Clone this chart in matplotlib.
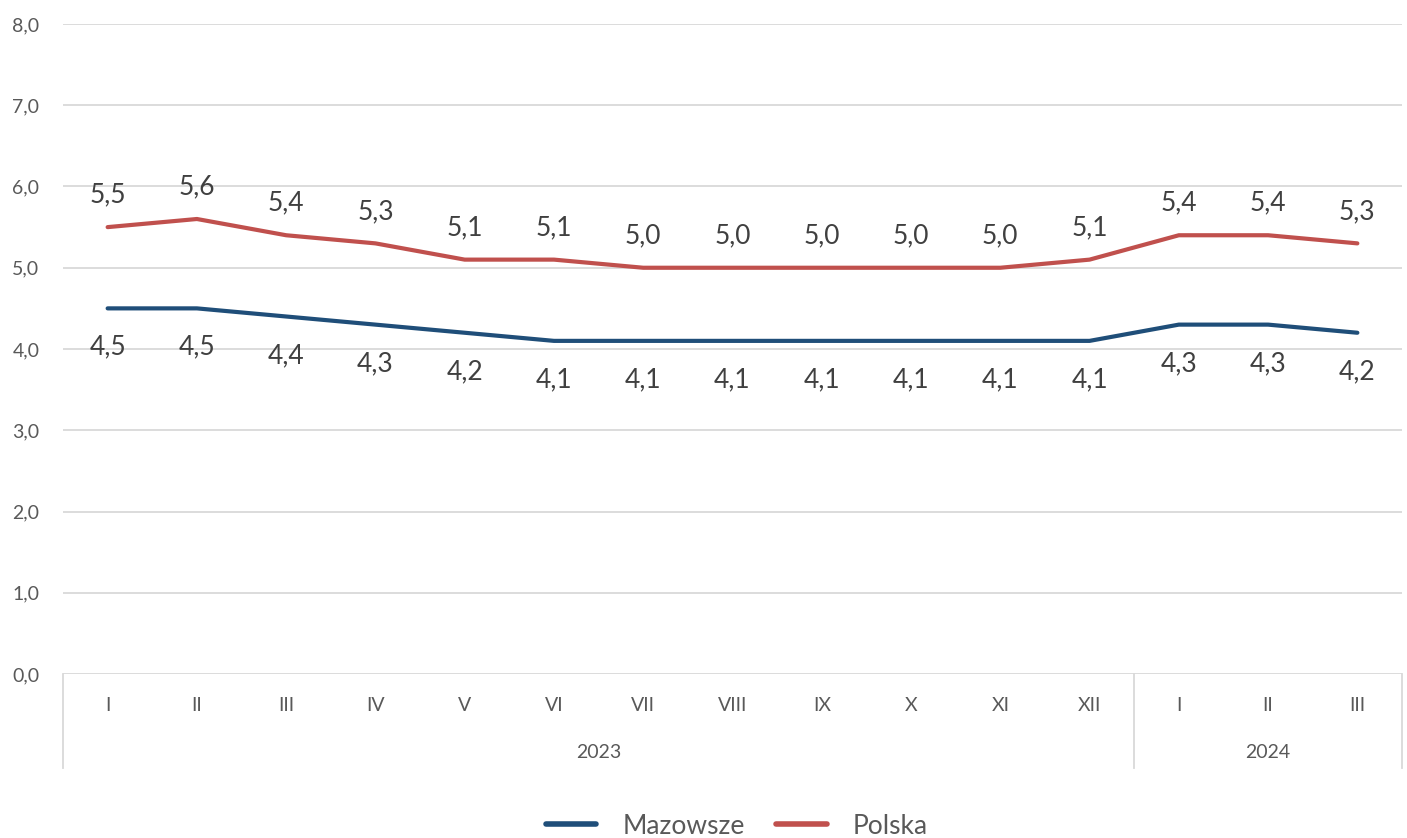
import numpy as np
import matplotlib.pyplot as plt
from matplotlib.lines import Line2D

plt.rcParams['font.family'] = ['Lato', 'DejaVu Sans']

# data
months = ["I", "II", "III", "IV", "V", "VI", "VII", "VIII", "IX", "X", "XI", "XII", "I", "II", "III"]
years = ["2023", "2024"]
year_counts = [12, 3]
mazowsze = [4.5, 4.5, 4.4, 4.3, 4.2, 4.1, 4.1, 4.1, 4.1, 4.1, 4.1, 4.1, 4.3, 4.3, 4.2]
polska = [5.5, 5.6, 5.4, 5.3, 5.1, 5.1, 5.0, 5.0, 5.0, 5.0, 5.0, 5.1, 5.4, 5.4, 5.3]

c_maz = "#1F4E79"
c_pol = "#C0504D"
grid_c = "#D9D9D9"
txt_c = "#595959"
lab_c = "#404040"

fig = plt.figure(figsize=(14.07, 8.38), dpi=100)
ax = fig.add_axes([63/1407, 1-674/838, (1402-63)/1407, (674-24)/838])

x = np.arange(len(months))
ax.plot(x, mazowsze, color=c_maz, lw=3, solid_capstyle='round', zorder=3)
ax.plot(x, polska, color=c_pol, lw=3, solid_capstyle='round', zorder=3)

def fmt(v):
    return f"{v:.1f}".replace(".", ",")

for xi, v in zip(x, polska):
    ax.annotate(fmt(v), (xi, v), xytext=(0, 23), textcoords='offset points',
                ha='center', va='center', fontsize=19, color=lab_c)
for xi, v in zip(x, mazowsze):
    ax.annotate(fmt(v), (xi, v), xytext=(0, -28), textcoords='offset points',
                ha='center', va='center', fontsize=19, color=lab_c)

ax.set_xlim(-0.5, len(months) - 0.5)
ax.set_ylim(0, 8)
ax.set_yticks(np.arange(0, 9, 1))
ax.set_yticklabels([fmt(v) for v in np.arange(0, 9, 1)], fontsize=14, color=txt_c)
ax.tick_params(axis='y', length=0, pad=17)
ax.yaxis.grid(True, color=grid_c, lw=1.3)
ax.set_axisbelow(True)
for s in ax.spines.values():
    s.set_visible(False)
ax.set_xticks([])

# category axis (two levels)
trans = ax.get_xaxis_transform()
for xi, m in zip(x, months):
    ax.text(xi, -31/650, m, transform=trans, ha='center', va='center',
            fontsize=14, color=txt_c, clip_on=False)
bounds = np.concatenate([[0], np.cumsum(year_counts)]) - 0.5
for b in bounds:
    ax.plot([b, b], [0, -94/650], transform=trans, color=grid_c, lw=1.3, clip_on=False)
for i, yr in enumerate(years):
    ax.text((bounds[i] + bounds[i + 1]) / 2, -78/650, yr, transform=trans,
            ha='center', va='center', fontsize=14, color=txt_c, clip_on=False)

handles = [Line2D([], [], color=c_maz, lw=4, solid_capstyle='round'),
           Line2D([], [], color=c_pol, lw=4, solid_capstyle='round')]
fig.legend(handles, ["Mazowsze", "Polska"], loc='center', bbox_to_anchor=(737/1407, 1-826/838),
           ncol=2, frameon=False, fontsize=19, labelcolor=txt_c, handlelength=1.9,
           columnspacing=1.2, handletextpad=1.0)

fig.savefig("out.png", dpi=100)
